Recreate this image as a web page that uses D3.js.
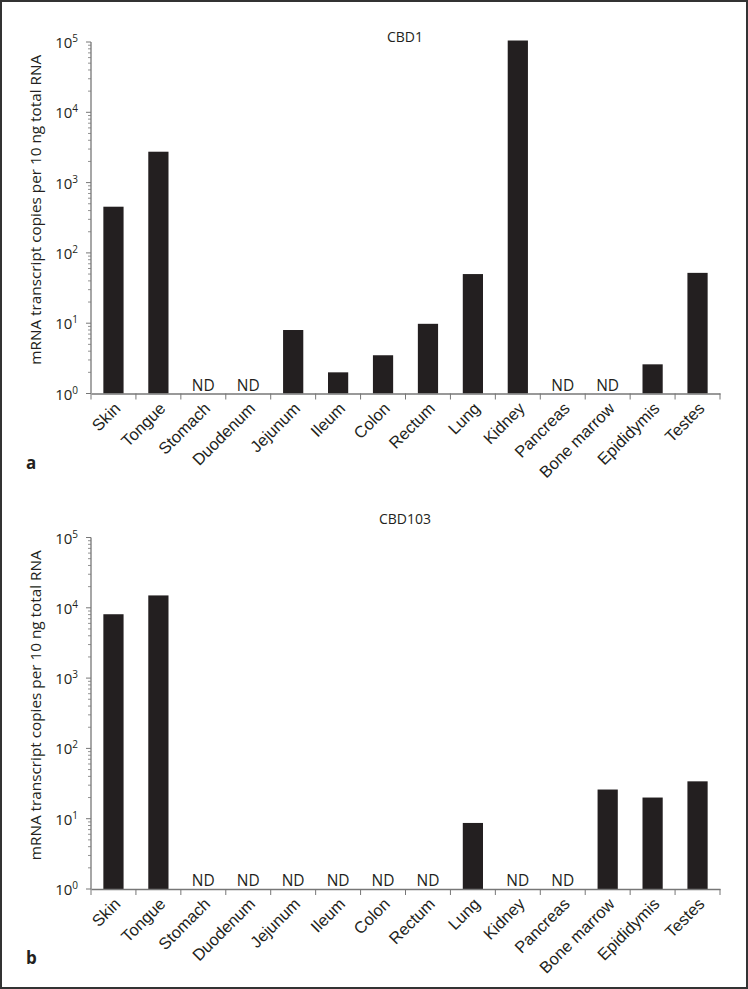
<!DOCTYPE html>
<html>
<head>
<meta charset="utf-8">
<script src="https://cdn.jsdelivr.net/npm/d3@7"></script>
<style>
  html, body { margin: 0; padding: 0; background: #fff; }
  svg { display: block; font-family: 'Open Sans', sans-serif; }
</style>
</head>
<body>
<div id="chart"></div>
<script>
// tissues on the x axis (same for both panels)
const tissues = ["Skin", "Tongue", "Stomach", "Duodenum", "Jejunum", "Ileum", "Colon",
  "Rectum", "Lung", "Kidney", "Pancreas", "Bone marrow", "Epididymis", "Testes"]

// copies per 10 ng total RNA, null = not detected (ND)
const cbd1 = [454, 2750, null, null, 8.0, 2.0, 3.5, 9.8, 50, 105000, null, null, 2.6, 52]
const cbd103 = [8100, 15000, null, null, null, null, null, null, 8.7, null, null, 26, 20, 34]

const yTicks = [1, 10, 100, 1000, 10000, 100000]
const yTitle = "mRNA transcript copies per 10 ng total RNA"

const width = 748
const height = 989

const svg = d3.select("#chart")
  .append("svg")
    .attr("width", width)
    .attr("height", height)

// outer frame
svg.append("rect")
  .attr("x", 1)
  .attr("y", 1)
  .attr("width", width - 2)
  .attr("height", height - 2)
  .attr("fill", "none")
  .attr("stroke", "#333")
  .attr("stroke-width", 2)

const left = 91
const plotW = 629
const plotH = 351.5

function drawPanel(top, values, title, titleY, letter) {
  const g = svg.append("g")
    .attr("transform", "translate(" + left + "," + top + ")")

  const x = d3.scaleBand()
    .domain(tissues)
    .range([0, plotW])
    .padding(0)

  const y = d3.scaleLog()
    .domain([1, 100000])
    .range([plotH, 0])

  const barW = x.bandwidth() * 0.45

  // bars
  g.selectAll(".bar")
    .data(tissues.map((t, i) => ({ t: t, v: values[i] })).filter(d => d.v !== null))
    .enter()
    .append("rect")
      .attr("class", "bar")
      .attr("x", d => x(d.t) + (x.bandwidth() - barW) / 2)
      .attr("y", d => y(d.v))
      .attr("width", barW)
      .attr("height", d => plotH - y(d.v))
      .attr("fill", "#231f20")

  // ND labels
  g.selectAll(".nd")
    .data(tissues.filter((t, i) => values[i] === null))
    .enter()
    .append("text")
      .attr("x", d => x(d) + x.bandwidth() / 2)
      .attr("y", plotH - 3)
      .attr("text-anchor", "middle")
      .attr("font-size", "15.5px")
      .attr("fill", "#231f20")
      .text("ND")

  // y axis: line + major ticks
  g.append("line")
    .attr("x1", 0).attr("x2", 0)
    .attr("y1", 0).attr("y2", plotH)
    .attr("stroke", "#777")
    .attr("stroke-width", 1.3)

  const minor = []
  for (let e = 0; e < 5; e++) {
    for (let k = 2; k < 10; k++) minor.push(k * Math.pow(10, e))
  }
  g.selectAll(".minor")
    .data(minor)
    .enter()
    .append("line")
      .attr("x1", -3).attr("x2", 0)
      .attr("y1", d => y(d)).attr("y2", d => y(d))
      .attr("stroke", "#777")
      .attr("stroke-width", 0.8)

  g.selectAll(".major")
    .data(yTicks)
    .enter()
    .append("line")
      .attr("x1", -5).attr("x2", 0)
      .attr("y1", d => y(d)).attr("y2", d => y(d))
      .attr("stroke", "#777")
      .attr("stroke-width", 1)

  const lab = g.selectAll(".ylab")
    .data(yTicks)
    .enter()
    .append("text")
      .attr("x", -13)
      .attr("y", d => y(d) + 6)
      .attr("text-anchor", "end")
      .attr("font-size", "15px")
      .attr("fill", "#231f20")
  lab.append("tspan").text("10")
  lab.append("tspan")
    .attr("dy", -6)
    .attr("font-size", "10px")
    .text(d => Math.round(Math.log10(d)))

  // x axis with ticks at band edges
  const xAxis = g.append("g")
    .attr("transform", "translate(0," + plotH + ")")
    .call(d3.axisBottom(x).tickSize(0).tickFormat(""))
  xAxis.select(".domain").attr("stroke", "#777").attr("stroke-width", 1.3)

  xAxis.selectAll(".edge")
    .data(d3.range(tissues.length + 1))
    .enter()
    .append("line")
      .attr("x1", i => i * x.step()).attr("x2", i => i * x.step())
      .attr("y1", 0).attr("y2", 6)
      .attr("stroke", "#777")
      .attr("stroke-width", 1)

  xAxis.selectAll(".xlab")
    .data(tissues)
    .enter()
    .append("text")
      .attr("transform", d => "translate(" + (x(d) + x.bandwidth() / 2 + 8) + ",16) rotate(-45)")
      .attr("text-anchor", "end")
      .attr("font-size", "16.5px")
      .attr("fill", "#231f20")
      .text(d => d)

  // title
  g.append("text")
    .attr("x", 314)
    .attr("y", titleY)
    .attr("text-anchor", "middle")
    .attr("font-size", "14px")
    .attr("fill", "#231f20")
    .text(title)

  // y axis title
  g.append("text")
    .attr("transform", "translate(" + (36 - left) + "," + (plotH / 2 - 8) + ") rotate(-90)")
    .attr("text-anchor", "middle")
    .attr("dy", "0.35em")
    .attr("font-size", "15.3px")
    .attr("fill", "#231f20")
    .text(yTitle)

  // panel letter
  svg.append("text")
    .attr("x", 26)
    .attr("y", top + plotH + 75)
    .attr("font-size", "17px")
    .attr("font-weight", "bold")
    .attr("fill", "#231f20")
    .text(letter)
}

drawPanel(42, cbd1, "CBD1", 0, "a")
drawPanel(537.5, cbd103, "CBD103", -14, "b")
</script>
</body>
</html>
